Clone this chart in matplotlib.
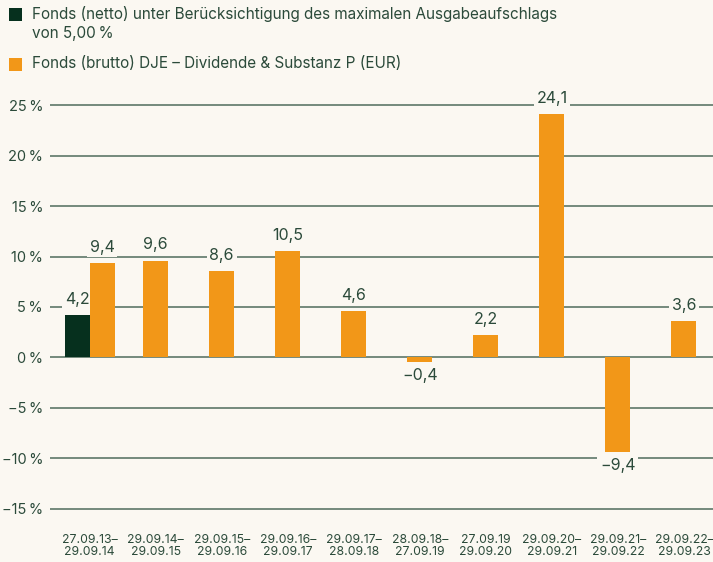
import numpy as np
import matplotlib.pyplot as plt
from matplotlib.patches import Rectangle

plt.rcParams['font.family'] = ['Inter', 'DejaVu Sans']

periods = ["27.09.13–\n29.09.14", "29.09.14–\n29.09.15", "29.09.15–\n29.09.16",
           "29.09.16–\n29.09.17", "29.09.17–\n28.09.18", "28.09.18–\n27.09.19",
           "27.09.19\n29.09.20", "29.09.20–\n29.09.21", "29.09.21–\n29.09.22",
           "29.09.22–\n29.09.23"]
netto = [4.2, np.nan, np.nan, np.nan, np.nan, np.nan, np.nan, np.nan, np.nan, np.nan]
brutto = [9.4, 9.6, 8.6, 10.5, 4.6, -0.4, 2.2, 24.1, -9.4, 3.6]
yticks = [-15, -10, -5, 0, 5, 10, 15, 20, 25]

legend_labels = ["Fonds (netto) unter Berücksichtigung des maximalen Ausgabeaufschlags\nvon 5,00\u2009%",
                 "Fonds (brutto) DJE – Dividende & Substanz P (EUR)"]

bg = '#fbf8f2'
c_dark = '#06301e'
c_orange = '#f29718'
c_text = '#2b4a3a'
c_grid = '#748a7c'

def fmt(v):
    s = f"{abs(v):.1f}".replace('.', ',')
    return ('−' + s) if v < 0 else s

fig = plt.figure(figsize=(7.13, 5.62), dpi=100, facecolor=bg)
ax = fig.add_axes([50/713, 1-519/562, 1-50/713, (519-95)/562])
ax.set_facecolor(bg)

x = np.arange(len(periods))
w = 0.38
has_netto = ~np.isnan(np.array(netto))
off = np.where(has_netto, w/2, 0)

for yt in yticks:
    ax.axhline(yt, color=c_grid, lw=1.4, zorder=1)

ax.bar(x[has_netto] - w/2, np.array(netto)[has_netto], w, color=c_dark, zorder=3)
ax.bar(x + off, brutto, w, color=c_orange, zorder=3)

for i in range(len(x)):
    if has_netto[i]:
        ax.text(x[i] - w/2, netto[i] + 0.8, fmt(netto[i]), ha='center', va='bottom',
                fontsize=11.5, color=c_text, zorder=2,
                bbox=dict(facecolor=bg, edgecolor='none', pad=2))
    v = brutto[i]
    if v >= 0:
        ax.text(x[i] + off[i], v + 0.8, fmt(v), ha='center', va='bottom',
                fontsize=11.5, color=c_text, zorder=4,
                bbox=dict(facecolor=bg, edgecolor='none', pad=2))
    else:
        ax.text(x[i] + off[i], v - 0.6, fmt(v), ha='center', va='top',
                fontsize=11.5, color=c_text, zorder=4,
                bbox=dict(facecolor=bg, edgecolor='none', pad=2))

ax.set_xlim(-0.6, 9.44)
ax.set_ylim(-16, 26)
ax.set_yticks(yticks)
ax.set_yticklabels([f"{'−' if t < 0 else ''}{abs(t)}\u2009%" for t in yticks],
                   fontsize=10.5, color=c_text)
ax.set_xticks(x)
ax.set_xticklabels(periods, fontsize=8.8, color=c_text, linespacing=1.0)
ax.tick_params(axis='both', length=0)
ax.tick_params(axis='y', pad=5)
ax.tick_params(axis='x', pad=11)
for s in ax.spines.values():
    s.set_visible(False)

# legend
fig.patches.append(Rectangle((9/713, 1-21/562), 13/713, 13/562, transform=fig.transFigure,
                             facecolor=c_dark, edgecolor='none'))
fig.text(32/713, 1-6/562, legend_labels[0], fontsize=11, color=c_text, va='top',
         linespacing=1.35, transform=fig.transFigure)
fig.patches.append(Rectangle((9/713, 1-71/562), 13/713, 13/562, transform=fig.transFigure,
                             facecolor=c_orange, edgecolor='none'))
fig.text(32/713, 1-64/562, legend_labels[1], fontsize=11, color=c_text, va='center',
         transform=fig.transFigure)

fig.savefig('out.png', dpi=100, facecolor=bg)
